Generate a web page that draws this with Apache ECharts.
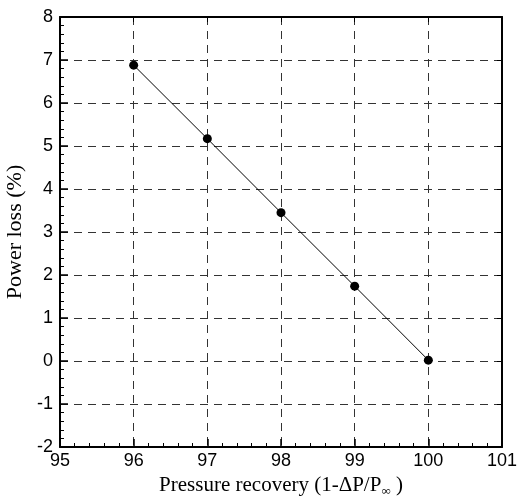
<!DOCTYPE html>
<html><head><meta charset="utf-8">
<script src="https://cdn.jsdelivr.net/npm/echarts@6/dist/echarts.min.js"></script>
<style>html,body{margin:0;padding:0;background:#fff}#c{width:526px;height:496px}</style>
</head><body><div id="c"></div>
<script>
const xValues = [96, 97, 98, 99, 100];
const powerLoss = [6.88, 5.17, 3.45, 1.74, 0.02];
const xTicks = [95, 96, 97, 98, 99, 100, 101];
const yTicks = [-2, -1, 0, 1, 2, 3, 4, 5, 6, 7, 8];

const chart = echarts.init(document.getElementById('c'));
const labelFont = {color:'#000', fontFamily:'Liberation Sans', fontSize:18};
const dashed = {show:true, lineStyle:{color:'#333', type:[8,6], width:1}};
chart.setOption({
  animation:false,
  grid:{left:60, right:24, top:17, bottom:49, containLabel:false, outerBoundsMode:'none'},
  xAxis:[{
    type:'value', min:xTicks[0], max:xTicks[xTicks.length-1], interval:1,
    axisLine:{show:true, onZero:false, lineStyle:{color:'#000', width:2}},
    axisTick:{show:true, inside:true, length:8, lineStyle:{color:'#000', width:1.5}},
    minorTick:{show:true, splitNumber:5, length:4, lineStyle:{color:'#000'}},
    splitLine:dashed,
    axisLabel:Object.assign({margin:5}, labelFont),
    name:'{a|Pressure recovery (1-ΔP/P}{s|∞}{a| )}',
    nameLocation:'middle', nameGap:22,
    nameTextStyle:{rich:{a:{fontFamily:'Liberation Serif', fontSize:21, color:'#000', lineHeight:24},
                         s:{fontFamily:'Liberation Serif', fontSize:13, color:'#000', verticalAlign:'bottom', lineHeight:24, padding:[10,0,0,0]}}}
  },{
    type:'value', position:'top', min:95, max:101, interval:1,
    axisLine:{show:true, onZero:false, lineStyle:{color:'#000', width:2}},
    axisTick:{show:true, inside:true, length:5, lineStyle:{color:'#000'}},
    axisLabel:{show:false}, splitLine:{show:false}
  }],
  yAxis:[{
    type:'value', min:yTicks[0], max:yTicks[yTicks.length-1], interval:1,
    axisLine:{show:true, onZero:false, lineStyle:{color:'#000', width:2}},
    axisTick:{show:true, inside:true, length:8, lineStyle:{color:'#000', width:1.5}},
    minorTick:{show:true, splitNumber:5, length:4, lineStyle:{color:'#000'}},
    splitLine:dashed,
    axisLabel:Object.assign({margin:7}, labelFont),
    name:'Power loss (%)', nameLocation:'middle', nameGap:27, nameRotate:90,
    nameTextStyle:{fontFamily:'Liberation Serif', fontSize:22, color:'#000'}
  },{
    type:'value', position:'right', min:-2, max:8, interval:1,
    axisLine:{show:true, onZero:false, lineStyle:{color:'#000', width:2}},
    axisTick:{show:true, inside:true, length:5, lineStyle:{color:'#000'}},
    axisLabel:{show:false}, splitLine:{show:false}
  }],
  series:[{
    type:'line', data:xValues.map((x,i)=>[x, powerLoss[i]]),
    symbol:'circle', symbolSize:9,
    itemStyle:{color:'#000'}, lineStyle:{color:'#000', width:1}
  }]
});
</script></body></html>
